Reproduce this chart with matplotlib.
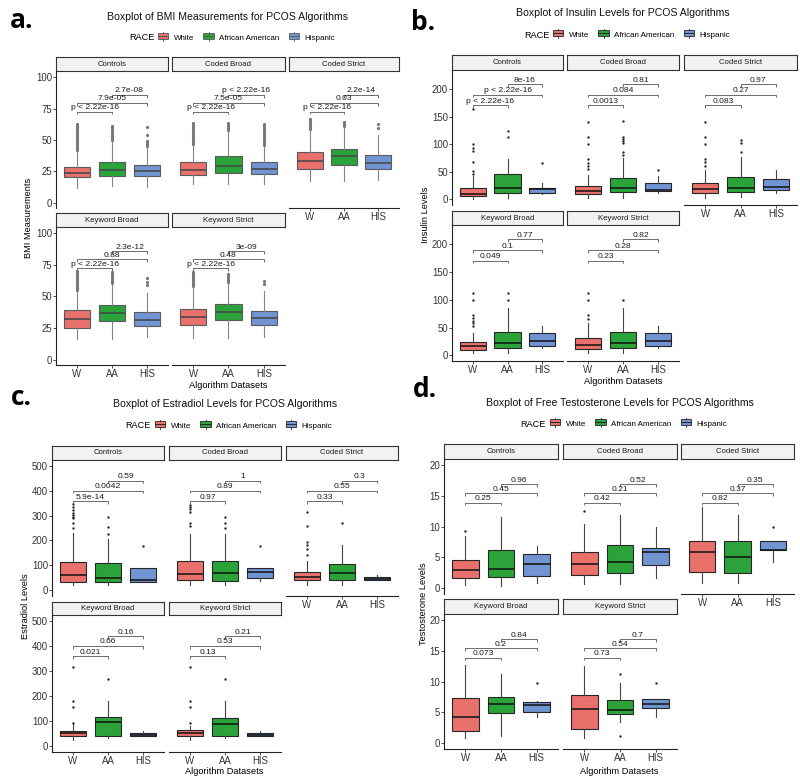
import matplotlib
matplotlib.use('Agg')
import matplotlib.pyplot as plt
from matplotlib.patches import Rectangle
from matplotlib.lines import Line2D
from matplotlib.legend_handler import HandlerBase

plt.rcParams['font.family'] = ['Liberation Sans', 'DejaVu Sans']

W, H = 800, 779

facets = ['Controls', 'Coded Broad', 'Coded Strict', 'Keyword Broad', 'Keyword Strict']
groups = ['W', 'AA', 'HIS']
race = ['White', 'African American', 'Hispanic']
race_colors = ['#E8716C', '#2CA33A', '#7194D3']
comparisons = [(0, 1), (0, 2), (1, 2)]

# box stats per facet: (whislo, q1, med, q3, whishi) for W, AA, HIS
bmi_stats = [
    [(12, 20.6, 23.8, 28.8, 41), (13, 21.2, 26, 32.5, 49), (12.4, 20.9, 24.9, 30.2, 44)],
    [(15, 22, 26, 32.3, 46), (15, 23.5, 29.6, 37, 57), (15, 22.8, 26.7, 32.5, 45)],
    [(17, 26.7, 33, 40.2, 58), (17, 30.2, 36.8, 42.6, 60), (18, 26.7, 32, 37.8, 54)],
    [(16, 25.4, 32.5, 38.9, 54), (16, 30.4, 36.5, 43.1, 59), (18, 26.2, 31.7, 37.8, 53)],
    [(17, 27, 33.6, 40, 57), (16.7, 31.2, 37.3, 43.7, 60), (18, 27, 33, 38.6, 54)],
]
bmi_fliers = [
    [[42, 43.5, 45, 46.5, 48, 49.5, 51, 52.5, 54, 55.5, 57, 58.5, 60, 61.5, 63],
     [50, 51.5, 53, 54.5, 56, 57.5, 59, 60.5, 61.5],
     [45, 46.5, 48, 49, 54, 60.5]],
    [[47, 48.5, 50, 51.5, 53, 54.5, 56, 57.5, 59, 60.5, 62, 63.5],
     [58, 59.5, 61, 62, 63.5],
     [46, 47.5, 49, 50.5, 52, 53.5, 55, 56.5, 58, 59.5, 61, 62.5]],
    [[59, 60.5, 62, 63.5, 65, 66.5], [61, 62.5, 64], [59.5, 62.5]],
    [[55, 56.5, 58, 59.5, 61, 62.5, 64, 65.5, 67, 68.5, 70],
     [60.5, 62, 63.5, 65, 66.5, 68, 69.5],
     [59, 61.5, 64.5]],
    [[58, 59.5, 61, 62.5, 64, 65.5, 67, 68.5, 69.5],
     [61.5, 63, 64.5, 66, 67.5],
     [59.5, 62.5]],
]
bmi_pvals = [
    ['p < 2.22e-16', '7.9e-05', '2.7e-08'],
    ['p < 2.22e-16', '7.5e-05', 'p < 2.22e-16'],
    ['p < 2.22e-16', '0.03', '2.2e-14'],
    ['p < 2.22e-16', '0.88', '2.3e-12'],
    ['p < 2.22e-16', '0.48', '3e-09'],
]

ins_stats = [
    [(1, 6, 10.8, 21.1, 42), (2, 12, 20.5, 47, 73.5), (10, 11.5, 19, 20.5, 30)],
    [(2, 10.8, 16.3, 24.7, 44), (2, 13.2, 21, 38.5, 74.6), (12, 15, 18, 30, 42)],
    [(3, 12, 19.2, 29.5, 53), (5, 14, 20.5, 41, 77), (12, 16.8, 23.5, 37.3, 54)],
    [(5, 9, 17, 24.8, 41), (3.6, 12.7, 22.4, 43, 85.5), (12.7, 16.4, 26, 40.6, 52.7)],
    [(3.6, 11, 18, 32, 58), (3.6, 12.7, 22.4, 42.4, 85.5), (12.7, 16.4, 26, 40.6, 52.7)],
]
ins_fliers = [
    [[47, 51, 68, 88, 93, 100, 164], [113, 125], [67]],
    [[56, 61, 66, 74, 100, 114, 141], [80, 86, 102, 106, 110, 114, 142], [53]],
    [[61, 68, 74, 100, 114, 141], [86, 103, 108], []],
    [[53, 58, 62, 68, 73, 100, 113], [100, 113], []],
    [[65.5, 73, 100, 113], [100.6], []],
]
ins_pvals = [
    ['p < 2.22e-16', 'p < 2.22e-16', '8e-16'],
    ['0.0013', '0.084', '0.81'],
    ['0.083', '0.27', '0.97'],
    ['0.049', '0.1', '0.77'],
    ['0.23', '0.28', '0.82'],
]

est_stats = [
    [(20, 32, 59, 113, 228), (20, 31, 47, 107.5, 204), (31, 31, 39, 87, 87)],
    [(20, 39, 63, 115.6, 226), (20, 36, 67, 115.6, 226), (34, 47, 74, 87, 87)],
    [(20, 38, 51, 74, 117), (20, 38, 67, 103.5, 181), (38, 38, 43, 52, 59)],
    [(23, 39, 50, 60.5, 87), (30, 39, 95, 115.6, 179), (39, 39, 44, 51, 60)],
    [(23, 39, 50, 62, 81), (30, 39, 86, 111.6, 179), (39, 39, 44, 51, 58)],
]
est_fliers = [
    [[249, 271, 289, 296, 302, 309, 322, 336, 349], [226, 253, 293], [177]],
    [[259, 271, 314, 325, 336, 345], [251, 269, 293], [177]],
    [[141, 164, 181, 195, 258, 316], [269], []],
    [[93, 157, 181, 316], [267], []],
    [[93, 157, 181, 316], [267], []],
]
est_pvals = [
    ['5.9e-14', '0.0042', '0.59'],
    ['0.97', '0.89', '1'],
    ['0.33', '0.55', '0.3'],
    ['0.021', '0.66', '0.16'],
    ['0.13', '0.53', '0.21'],
]

tes_stats = [
    [(0.5, 1.7, 3, 4.5, 8.5), (0.3, 1.8, 3.1, 6.2, 11.6), (0.8, 1.9, 3.9, 5.5, 6.9)],
    [(0.6, 2.1, 3.9, 5.9, 10.5), (0.65, 2.4, 4.2, 7, 11.9), (1.6, 3.7, 5.8, 6.5, 9.9)],
    [(0.9, 2.6, 5.9, 7.6, 13.2), (0.9, 2.5, 5.1, 7.6, 11.9), (4.2, 6.2, 6.2, 7.6, 7.6)],
    [(0.9, 2.05, 4.2, 7.3, 12.7), (1.1, 4.9, 6.3, 7.5, 11.2), (4.2, 5.1, 6.2, 6.7, 6.9)],
    [(0.9, 2.3, 5.5, 7.8, 12.6), (3.4, 4.7, 5.35, 7, 9.7), (4.2, 5.7, 6.3, 7.1, 7.1)],
]
tes_fliers = [
    [[9.3], [], []],
    [[12.6], [], []],
    [[], [], [9.9]],
    [[], [], [9.8]],
    [[], [1.1, 11.2], [9.8]],
]
tes_pvals = [
    ['0.25', '0.45', '0.96'],
    ['0.42', '0.21', '0.52'],
    ['0.82', '0.37', '0.35'],
    ['0.073', '0.2', '0.84'],
    ['0.73', '0.54', '0.7'],
]

# layout in pixels of the 800x779 canvas
panels = [
    dict(letter='a.', title='Boxplot of BMI Measurements for PCOS Algorithms', ylabel='BMI Measurements',
         stats=bmi_stats, fliers=bmi_fliers, pvals=bmi_pvals,
         cols=[(56, 168), (172, 285), (289, 399)], rows=[(57, 71, 208), (213, 227, 365)],
         ylim=(-4.3, 105), yticks=[0, 25, 50, 75, 100], levels=[72.5, 79.6, 86],
         edge='#5A5A5A', med='#444444', whisk='#858585', flier='#777777', fsize=2.3,
         letter_xy=(10, 28), title_xy=(228, 17), race_x=129, leg_x=158, leg_y=38,
         ylabel_xy=(29, 218), xlabel_xy=(228, 385.5)),
    dict(letter='b.', title='Boxplot of Insulin Levels for PCOS Algorithms', ylabel='Insulin Levels',
         stats=ins_stats, fliers=ins_fliers, pvals=ins_pvals,
         cols=[(452, 563), (567, 679), (684, 797)], rows=[(55, 70, 205), (211, 225, 361)],
         ylim=(-10, 235), yticks=[0, 50, 100, 150, 200], levels=[171, 190, 209.5],
         edge='#262626', med='#111111', whisk='#444444', flier='#222222', fsize=1.7,
         letter_xy=(411, 30), title_xy=(623, 13), race_x=524, leg_x=553, leg_y=35,
         ylabel_xy=(425, 215), xlabel_xy=(623, 381.5)),
    dict(letter='c.', title='Boxplot of Estradiol Levels for PCOS Algorithms', ylabel='Estradiol Levels',
         stats=est_stats, fliers=est_fliers, pvals=est_pvals,
         cols=[(52, 164), (169, 281), (286, 398)], rows=[(446, 460, 596), (602, 615, 752)],
         ylim=(-25, 525), yticks=[0, 100, 200, 300, 400, 500], levels=[359, 401, 441],
         edge='#262626', med='#111111', whisk='#444444', flier='#222222', fsize=1.7,
         letter_xy=(11, 405), title_xy=(225, 404), race_x=125, leg_x=155, leg_y=426,
         ylabel_xy=(26, 606), xlabel_xy=(224, 772)),
    dict(letter='d.', title='Boxplot of Free Testosterone Levels for PCOS Algorithms', ylabel='Testosterone Levels',
         stats=tes_stats, fliers=tes_fliers, pvals=tes_pvals,
         cols=[(444, 558), (563, 677), (681, 794)], rows=[(444, 459, 594), (599, 614, 749)],
         ylim=(-0.95, 21), yticks=[0, 5, 10, 15, 20], levels=[13.9, 15.4, 16.9],
         edge='#262626', med='#111111', whisk='#444444', flier='#222222', fsize=1.7,
         letter_xy=(413, 397), title_xy=(620, 403), race_x=520, leg_x=550, leg_y=424,
         ylabel_xy=(423, 604), xlabel_xy=(619, 771)),
]


def ax_px(fig, x0, y0, x1, y1):
    return fig.add_axes([x0 / W, 1 - y1 / H, (x1 - x0) / W, (y1 - y0) / H])


def fxy(x, y):
    return x / W, 1 - y / H


class BoxKey(HandlerBase):
    def __init__(self, edge):
        super().__init__()
        self.edge = edge

    def create_artists(self, legend, orig, xd, yd, w, h, fontsize, trans):
        fc = orig.get_facecolor()
        box = Rectangle((xd, yd + 0.1 * h), w, 0.8 * h, fc=fc, ec=self.edge, lw=0.6, transform=trans)
        med = Line2D([xd, xd + w], [yd + 0.5 * h] * 2, color=self.edge, lw=0.7, transform=trans)
        up = Line2D([xd + w / 2] * 2, [yd + 0.9 * h, yd + 1.15 * h], color=self.edge, lw=0.6, transform=trans)
        dn = Line2D([xd + w / 2] * 2, [yd - 0.15 * h, yd + 0.1 * h], color=self.edge, lw=0.6, transform=trans)
        return [box, med, up, dn]


def draw_panel(fig, p):
    yr = p['ylim'][1] - p['ylim'][0]
    for k, name in enumerate(facets):
        r, c = divmod(k, 3)
        x0, x1 = p['cols'][c]
        s0, s1, b1 = p['rows'][r]

        st = ax_px(fig, x0, s0, x1, s1)
        st.set_facecolor('#F2F2F2')
        st.set_xticks([])
        st.set_yticks([])
        for sp in st.spines.values():
            sp.set_color('#333333')
            sp.set_linewidth(0.8)
        st.text(0.5, 0.5, name, ha='center', va='center', fontsize=5.6, color='#1A1A1A',
                transform=st.transAxes)

        ax = ax_px(fig, x0, s1, x1, b1)
        ax.patch.set_alpha(0)
        bstats = []
        for g in range(3):
            lo, q1, md, q3, hi = p['stats'][k][g]
            bstats.append(dict(whislo=lo, q1=q1, med=md, q3=q3, whishi=hi, fliers=p['fliers'][k][g]))
        parts = ax.bxp(bstats, positions=[1, 2, 3], widths=0.75, patch_artist=True, showcaps=False,
                       boxprops=dict(edgecolor=p['edge'], linewidth=0.8),
                       medianprops=dict(color=p['med'], linewidth=1.1),
                       whiskerprops=dict(color=p['whisk'], linewidth=0.8),
                       flierprops=dict(marker='o', markersize=p['fsize'], markerfacecolor=p['flier'],
                                       markeredgecolor='none'))
        for box, col in zip(parts['boxes'], race_colors):
            box.set_facecolor(col)

        # significance brackets
        tip = 0.02 * yr
        for (i, j), lvl, lab in zip(comparisons, p['levels'], p['pvals'][k]):
            ax.plot([i + 1, i + 1, j + 1, j + 1], [lvl - tip, lvl, lvl, lvl - tip],
                    color='#555555', lw=0.6, solid_capstyle='butt')
            ax.text((i + j + 2) / 2, lvl + 0.003 * yr, lab, ha='center', va='bottom',
                    fontsize=6.1, color='#1A1A1A')

        ax.set_xlim(0.4, 3.6)
        ax.set_ylim(*p['ylim'])
        ax.spines['top'].set_visible(False)
        ax.spines['right'].set_visible(False)
        ax.tick_params(length=2, width=0.6, colors='#333333', labelsize=6.9, pad=0.8)
        if c == 0:
            ax.set_yticks(p['yticks'])
            ax.spines['left'].set_color('#222222')
            ax.spines['left'].set_linewidth(0.8)
        else:
            ax.set_yticks([])
            ax.spines['left'].set_visible(False)
        if r == 1 or c == 2:
            ax.set_xticks([1, 2, 3])
            ax.set_xticklabels(groups)
            ax.spines['bottom'].set_color('#222222')
            ax.spines['bottom'].set_linewidth(0.8)
        else:
            ax.set_xticks([])
            ax.spines['bottom'].set_visible(False)

    fig.text(*fxy(*p['letter_xy']), p['letter'], fontsize=19, fontweight='bold',
             family=['Open Sans', 'DejaVu Sans'], ha='left', va='baseline')
    fig.text(*fxy(*p['title_xy']), p['title'], fontsize=7.6, ha='center', va='center', color='#111111')
    fig.text(*fxy(*p['ylabel_xy']), p['ylabel'], fontsize=6.7, rotation=90, ha='center', va='center')
    fig.text(*fxy(*p['xlabel_xy']), 'Algorithm Datasets', fontsize=6.7, ha='center', va='center')
    fig.text(*fxy(p['race_x'], p['leg_y']), 'RACE', fontsize=6.6, ha='left', va='center')

    handles = [Rectangle((0, 0), 1, 1, fc=col) for col in race_colors]
    fig.legend(handles, race, loc='center left', bbox_to_anchor=fxy(p['leg_x'], p['leg_y']),
               ncol=3, frameon=False, fontsize=5.8, handlelength=1.3, handleheight=0.9,
               handletextpad=0.7, columnspacing=1.1, borderpad=0, borderaxespad=0,
               handler_map={Rectangle: BoxKey(p['edge'])})


fig = plt.figure(figsize=(W / 100, H / 100), dpi=100)
fig.patch.set_facecolor('white')
for p in panels:
    draw_panel(fig, p)

fig.savefig('out.png', dpi=100)
